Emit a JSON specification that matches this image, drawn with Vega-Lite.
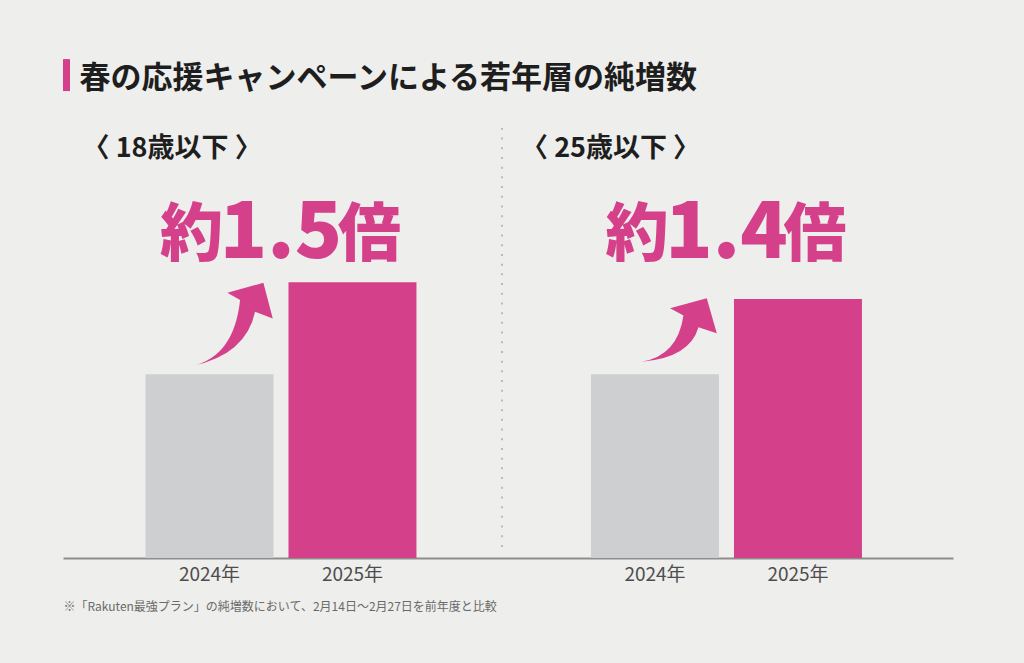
{
  "$schema": "https://vega.github.io/schema/vega-lite/v6.json",
  "width": 890,
  "height": 430,
  "autosize": {"type": "none"},
  "padding": {"left": 63, "top": 128, "right": 71, "bottom": 105},
  "background": "#eeeeec",
  "config": {"view": {"stroke": null}, "font": "Noto Sans CJK JP"},
  "datasets": {
    "bars": [
      {"group": "18歳以下", "year": "2024年", "value": 100},
      {"group": "18歳以下", "year": "2025年", "value": 150},
      {"group": "25歳以下", "year": "2024年", "value": 100},
      {"group": "25歳以下", "year": "2025年", "value": 141}
    ],
    "callouts": [
      {"group": "18歳以下", "label": "〈 18歳以下 〉", "ratio": "1.5"},
      {"group": "25歳以下", "label": "〈 25歳以下 〉", "ratio": "1.4"}
    ]
  },
  "data": {"name": "bars"},
  "layer": [
    {
      "mark": {"type": "bar"},
      "encoding": {
        "x": {
          "field": "group", "type": "nominal", "sort": ["18歳以下", "25歳以下"],
          "scale": {"paddingInner": 0.1, "paddingOuter": 0.0489, "align": 0.402},
          "axis": {
            "labels": false, "ticks": false, "grid": false,
            "domainColor": "#8d8d8b", "domainWidth": 2,
            "title": "※「Rakuten最強プラン」の純増数において、2月14日～2月27日を前年度と比較",
            "titleAnchor": "start", "titleAlign": "left", "titleFontSize": 12,
            "titleFontWeight": "normal", "titleColor": "#6a6a6a", "titlePadding": 43
          }
        },
        "xOffset": {"field": "year", "type": "nominal", "scale": {"paddingInner": 0.105, "paddingOuter": 0.4545}},
        "y": {"field": "value", "type": "quantitative", "scale": {"domain": [0, 234], "nice": false}, "axis": null},
        "color": {"field": "year", "type": "nominal", "scale": {"domain": ["2024年", "2025年"], "range": ["#cecfd1", "#d5408b"]}, "legend": null}
      }
    },
    {
      "mark": {"type": "text", "fontSize": 19, "color": "#4d4d4d", "baseline": "alphabetic", "dy": 23},
      "encoding": {
        "x": {"field": "group", "type": "nominal"},
        "xOffset": {"field": "year", "type": "nominal"},
        "y": {"datum": 0},
        "text": {"field": "year"}
      }
    },
    {
      "data": {"name": "callouts"},
      "transform": [{"filter": "datum.group === '25歳以下'"}],
      "mark": {"type": "rule", "color": "#b9b9b9", "strokeWidth": 2, "strokeDash": [2, 7.7]},
      "encoding": {
        "x": {"field": "group", "type": "nominal", "bandPosition": -0.06},
        "y": {"datum": 6},
        "y2": {"datum": 234}
      }
    },
    {
      "data": {"name": "callouts"},
      "transform": [{"filter": "datum.group === '18歳以下'"}],
      "mark": {"type": "text", "text": "春の応援キャンペーンによる若年層の純増数", "align": "left", "baseline": "alphabetic", "fontSize": 31, "fontWeight": "bold", "color": "#1e1e1e", "dx": -1},
      "encoding": {
        "x": {"field": "group", "type": "nominal", "bandPosition": 0},
        "y": {"datum": 255.8}
      }
    },
    {
      "data": {"name": "callouts"},
      "transform": [{"filter": "datum.group === '18歳以下'"}],
      "mark": {"type": "rule", "color": "#d5408b", "strokeWidth": 7, "strokeCap": "butt"},
      "encoding": {
        "x": {"field": "group", "type": "nominal", "bandPosition": -0.0349},
        "y": {"datum": 254.1},
        "y2": {"datum": 271.5}
      }
    },
    {
      "data": {"name": "callouts"},
      "transform": [{"filter": "datum.group === '18歳以下'"}],
      "mark": {"type": "text", "align": "left", "baseline": "alphabetic", "fontSize": 27, "fontWeight": "bold", "color": "#1e1e1e", "dx": 2},
      "encoding": {
        "x": {"field": "group", "type": "nominal", "bandPosition": 0},
        "y": {"datum": 218.2},
        "text": {"field": "label"}
      }
    },
    {
      "data": {"name": "callouts"},
      "transform": [{"filter": "datum.group === '25歳以下'"}],
      "mark": {"type": "text", "align": "left", "baseline": "alphabetic", "fontSize": 27, "fontWeight": "bold", "color": "#1e1e1e", "dx": -5},
      "encoding": {
        "x": {"field": "group", "type": "nominal", "bandPosition": 0},
        "y": {"datum": 218.2},
        "text": {"field": "label"}
      }
    },
    {
      "data": {"name": "callouts"},
      "mark": {"type": "text", "text": "約", "align": "right", "baseline": "alphabetic", "fontSize": 63, "fontWeight": 900, "color": "#d5408b", "dx": -58, "dy": -3},
      "encoding": {
        "x": {"field": "group", "type": "nominal"},
        "y": {"datum": 163}
      }
    },
    {
      "data": {"name": "callouts"},
      "mark": {"type": "text", "align": "center", "baseline": "alphabetic", "fontSize": 78, "fontWeight": 900, "color": "#d5408b"},
      "encoding": {
        "x": {"field": "group", "type": "nominal"},
        "y": {"datum": 163},
        "text": {"field": "ratio"}
      }
    },
    {
      "data": {"name": "callouts"},
      "mark": {"type": "text", "text": "倍", "align": "left", "baseline": "alphabetic", "fontSize": 63, "fontWeight": 900, "color": "#d5408b", "dx": 57, "dy": -3},
      "encoding": {
        "x": {"field": "group", "type": "nominal"},
        "y": {"datum": 163}
      }
    },
    {
      "data": {"name": "callouts"},
      "transform": [{"filter": "datum.group === '18歳以下'"}],
      "mark": {"type": "point", "shape": "M-40,41.5Q2,32 8,-24.5L-4.7,-31.8L31.3,-41.8L40.7,-6.2L23,-12.8Q14,30 -40,41.5Z", "size": 4, "filled": true, "opacity": 1, "strokeWidth": 0, "color": "#d5408b"},
      "encoding": {
        "x": {"field": "group", "type": "nominal", "bandPosition": 0.378},
        "y": {"datum": 127}
      }
    },
    {
      "data": {"name": "callouts"},
      "transform": [{"filter": "datum.group === '25歳以下'"}],
      "mark": {"type": "point", "shape": "M-37.8,31.7Q-2,26 3.9,-14.4L-9.5,-21.7L27.2,-31.7L37.2,3.3L18.9,-2.7Q10,28 -37.8,31.7Z", "size": 4, "filled": true, "opacity": 1, "strokeWidth": 0, "color": "#d5408b"},
      "encoding": {
        "x": {"field": "group", "type": "nominal", "bandPosition": 0.383},
        "y": {"datum": 124.1}
      }
    }
  ]
}
